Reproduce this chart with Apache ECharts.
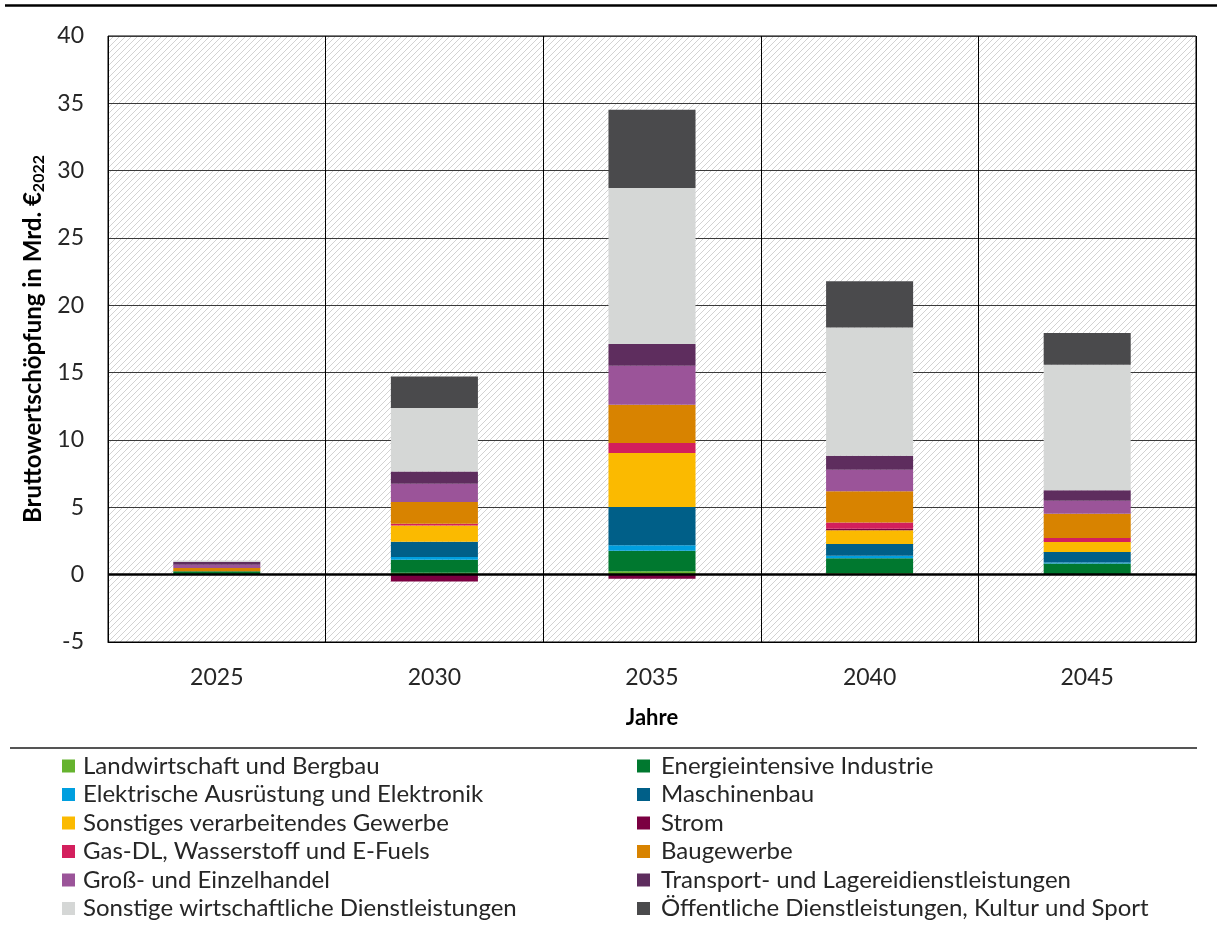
<!DOCTYPE html>
<html>
<head>
<meta charset="utf-8">
<script src="https://cdn.jsdelivr.net/npm/echarts@6/dist/echarts.min.js"></script>
<style>
  html, body { margin: 0; padding: 0; background: #fff; }
  #chart { width: 1217px; height: 926px; }
</style>
</head>
<body>
<div id="chart"></div>
<script>
// Bruttowertschöpfung nach Wirtschaftszweigen, Mrd. €2022
const categories = ['2025', '2030', '2035', '2040', '2045'];

const landwirtschaft  = [0.05, 0.15, 0.25, 0.10, 0.05];
const energieintensiv = [0.20, 0.96, 1.53, 1.11, 0.78];
const elektrisch      = [0.00, 0.20, 0.40, 0.20, 0.08];
const maschinenbau    = [0.00, 1.14, 2.85, 0.87, 0.78];
const sonstVerarb     = [0.00, 1.21, 4.00, 1.01, 0.74];
const strom           = [0.00, -0.50, -0.30, 0.12, 0.00];
const gasDL           = [0.00, 0.13, 0.75, 0.47, 0.29];
const baugewerbe      = [0.25, 1.61, 2.84, 2.31, 1.81];
const handel          = [0.24, 1.36, 2.90, 1.61, 0.96];
const transport       = [0.20, 0.91, 1.61, 1.03, 0.77];
const sonstigeDL      = [0.12, 4.70, 11.58, 9.53, 9.33];
const oeffentlich     = [0.00, 2.35, 5.81, 3.42, 2.35];

const yTicks = { min: -5, max: 40, interval: 5 };

const sectors = [
  { name: 'Landwirtschaft und Bergbau', data: landwirtschaft, color: '#65b32e' },
  { name: 'Energieintensive Industrie', data: energieintensiv, color: '#00782f' },
  { name: 'Elektrische Ausrüstung und Elektronik', data: elektrisch, color: '#009fdf' },
  { name: 'Maschinenbau', data: maschinenbau, color: '#005f88' },
  { name: 'Sonstiges verarbeitendes Gewerbe', data: sonstVerarb, color: '#fbba00' },
  { name: 'Strom', data: strom, color: '#7b0041' },
  { name: 'Gas-DL, Wasserstoff und E-Fuels', data: gasDL, color: '#d31f5d' },
  { name: 'Baugewerbe', data: baugewerbe, color: '#d88300' },
  { name: 'Groß- und Einzelhandel', data: handel, color: '#9b5499' },
  { name: 'Transport- und Lagereidienstleistungen', data: transport, color: '#5e2d5e' },
  { name: 'Sonstige wirtschaftliche Dienstleistungen', data: sonstigeDL, color: '#d5d7d6' },
  { name: 'Öffentliche Dienstleistungen, Kultur und Sport', data: oeffentlich, color: '#4a4a4c' }
];

// Diagonal hatching tile for the plot area
const tile = document.createElement('canvas');
tile.width = 6; tile.height = 6;
const tctx = tile.getContext('2d');
tctx.fillStyle = '#ffffff';
tctx.fillRect(0, 0, 6, 6);
tctx.strokeStyle = '#d2d2d2';
tctx.lineWidth = 1;
tctx.beginPath();
tctx.moveTo(-1, 7); tctx.lineTo(7, -1);
tctx.moveTo(-4, 4); tctx.lineTo(4, -4);
tctx.moveTo(2, 10); tctx.lineTo(10, 2);
tctx.stroke();

const FONT = 'Lato';
const TXT = '#262626';

const series = sectors.map((s, i) => {
  const item = {
    name: s.name,
    type: 'bar',
    stack: 'total',
    barWidth: '40%',
    data: s.data,
    itemStyle: { color: s.color },
    emphasis: { disabled: true },
    z: 3
  };
  if (i === 0) {
    item.markLine = {
      silent: true,
      symbol: 'none',
      label: { show: false },
      lineStyle: { color: '#000', width: 2.5, type: 'solid' },
      data: [{ yAxis: 0 }],
      z: 5
    };
  }
  return item;
});

const leftNames = sectors.filter((_, i) => i % 2 === 0).map(s => s.name);
const rightNames = sectors.filter((_, i) => i % 2 === 1).map(s => s.name);

const legendBase = {
  orient: 'vertical',
  top: 754,
  padding: 0,
  itemWidth: 13,
  itemHeight: 13,
  itemGap: 4.5,
  icon: 'rect',
  selectedMode: false,
  textStyle: { fontFamily: FONT, fontSize: 24, color: TXT, lineHeight: 22.5, padding: [0, 0, 0, 3] }
};

const chart = echarts.init(document.getElementById('chart'));
chart.setOption({
  animation: false,
  backgroundColor: '#fff',
  grid: {
    left: 108, right: 21, top: 36, bottom: 284,
    show: true,
    borderColor: '#000',
    borderWidth: 1,
    backgroundColor: { image: tile, repeat: 'repeat' }
  },
  legend: [
    Object.assign({}, legendBase, { left: 62, data: leftNames }),
    Object.assign({}, legendBase, { left: 637, data: rightNames, textStyle: Object.assign({}, legendBase.textStyle, { padding: [0, 0, 0, 6] }) })
  ],
  xAxis: {
    type: 'category',
    data: categories,
    axisLine: { onZero: false, lineStyle: { color: '#000' } },
    axisTick: { show: false },
    splitLine: { show: true, interval: 0, lineStyle: { color: '#000', width: 1 } },
    axisLabel: { fontFamily: FONT, fontSize: 23, color: TXT, margin: 24 },
    name: 'Jahre',
    nameLocation: 'middle',
    nameGap: 65,
    nameTextStyle: { fontFamily: FONT, fontSize: 22, fontWeight: 'bold', color: '#000' }
  },
  yAxis: {
    type: 'value',
    min: yTicks.min,
    max: yTicks.max,
    interval: yTicks.interval,
    axisLine: { show: false },
    axisTick: { show: false },
    splitLine: { lineStyle: { color: '#3a3a3a', width: 1 } },
    axisLabel: { fontFamily: FONT, fontSize: 23, color: TXT, margin: 24 },
    name: '{b|Bruttowertschöpfung in Mrd. €}{s|2022}',
    nameLocation: 'middle',
    nameGap: 60,
    nameRotate: 90,
    nameTextStyle: {
      rich: {
        b: { fontFamily: FONT, fontSize: 24, fontWeight: 'bold', color: '#000' },
        s: { fontFamily: FONT, fontSize: 16, fontWeight: 'bold', color: '#000', verticalAlign: 'bottom', padding: [10, 0, 0, 0] }
      }
    }
  },
  graphic: [
    { type: 'line', shape: { x1: 5, y1: 5.5, x2: 1217, y2: 5.5 }, style: { stroke: '#000', lineWidth: 2.5 }, silent: true },
    { type: 'line', shape: { x1: 10, y1: 748, x2: 1197, y2: 748 }, style: { stroke: '#555', lineWidth: 2 }, silent: true }
  ],
  series: series
});
</script>
</body>
</html>
